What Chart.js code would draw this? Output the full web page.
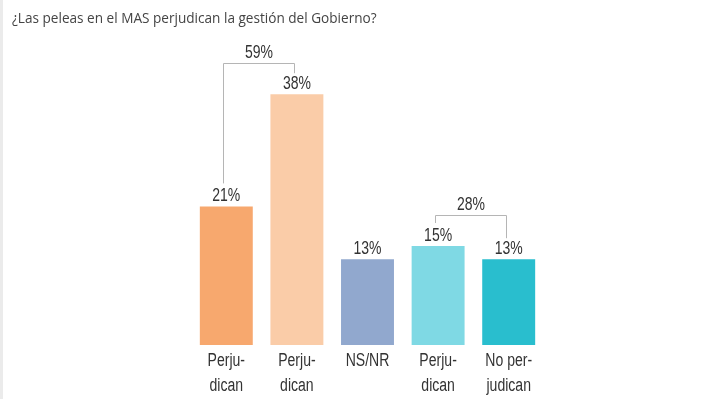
<!DOCTYPE html>
<html>
<head>
<meta charset="utf-8">
<script src="https://cdn.jsdelivr.net/npm/chart.js@4/dist/chart.umd.min.js"></script>
<style>
  html, body { margin: 0; padding: 0; background: #fff; }
  #wrap { position: relative; width: 720px; height: 399px; overflow: hidden; }
  #edge { position: absolute; left: 0; top: 0; width: 3px; height: 399px; background: #ebebeb; }
  #title { position: absolute; left: 12px; top: 8px; font-family: "Open Sans", sans-serif; font-size: 13.6px; color: #444; white-space: nowrap; }
  #c { position: absolute; left: 0; top: 0; }
</style>
</head>
<body>
<div id="wrap">
  <div id="edge"></div>
  <canvas id="c" width="720" height="399"></canvas>
  <div id="title">¿Las peleas en el MAS perjudican la gestión del Gobierno?</div>
</div>
<script>
// データ
const categories = [["Perju-", "dican"], ["Perju-", "dican"], ["NS/NR"], ["Perju-", "dican"], ["No per-", "judican"]];
const values = [21, 38, 13, 15, 13];
const barColors = ["#F7A86E", "#FACCA8", "#91A8CE", "#7FD9E4", "#29BECE"];
// 合計のブラケット (左のバー, 右のバー)
const bracketPairs = [[0, 1], [3, 4]];
const bracketTotals = [59, 28];

// 文字を横に縮めて描く
function narrowText(ctx, text, x, y, sx) {
    ctx.save();
    ctx.translate(x, y);
    ctx.scale(sx, 1);
    ctx.fillText(text, 0, 0);
    ctx.restore();
}

const labelsPlugin = {
    id: 'barLabels',
    afterDatasetsDraw(chart) {
        const ctx = chart.ctx;
        const meta = chart.getDatasetMeta(0);
        const xScale = chart.scales.x;
        ctx.save();
        ctx.fillStyle = '#333';
        ctx.textAlign = 'center';
        ctx.textBaseline = 'middle';
        // バーの上の値
        ctx.font = '17.5px "Liberation Sans", Arial, sans-serif';
        meta.data.forEach(function(bar, i){
            narrowText(ctx, values[i] + '%', bar.x, bar.y - 10, 0.8);
        });
        // カテゴリー名
        ctx.font = '18px "Liberation Sans", Arial, sans-serif';
        categories.forEach(function(lines, i){
            const x = xScale.getPixelForValue(i);
            lines.forEach(function(line, j){
                narrowText(ctx, line, x, chart.chartArea.bottom + 16 + j * 25, 0.78);
            });
        });
        // ブラケット
        ctx.font = '17.5px "Liberation Sans", Arial, sans-serif';
        ctx.strokeStyle = '#b5b5b5';
        ctx.lineWidth = 1;
        bracketPairs.forEach(function(pair, k){
            const a = meta.data[pair[0]];
            const b = meta.data[pair[1]];
            const top = Math.round(Math.min(a.y, b.y) - 31) + 0.5;
            const xa = Math.round(a.x - 3) + 0.5;
            const xb = Math.round(b.x - 3) + 0.5;
            ctx.beginPath();
            ctx.moveTo(xa, a.y - 23);
            ctx.lineTo(xa, top);
            ctx.lineTo(xb, top);
            ctx.lineTo(xb, b.y - 21);
            ctx.stroke();
            narrowText(ctx, bracketTotals[k] + '%', (xa + xb) / 2, top - 10, 0.8);
        });
        ctx.restore();
    }
};

new Chart(document.getElementById('c').getContext('2d'), {
    type: 'bar',
    data: {
        labels: categories,
        datasets: [{
            data: values,
            backgroundColor: barColors,
            borderWidth: 0,
            barPercentage: 0.75,
            categoryPercentage: 1.0
        }]
    },
    options: {
        responsive: false,
        animation: false,
        layout: { padding: { left: 191, right: 176, top: 15, bottom: 54 } },
        plugins: {
            legend: { display: false },
            tooltip: { enabled: false }
        },
        scales: {
            x: { display: false },
            y: { display: false, min: 0, max: 50 }
        }
    },
    plugins: [labelsPlugin]
});
</script>
</body>
</html>
